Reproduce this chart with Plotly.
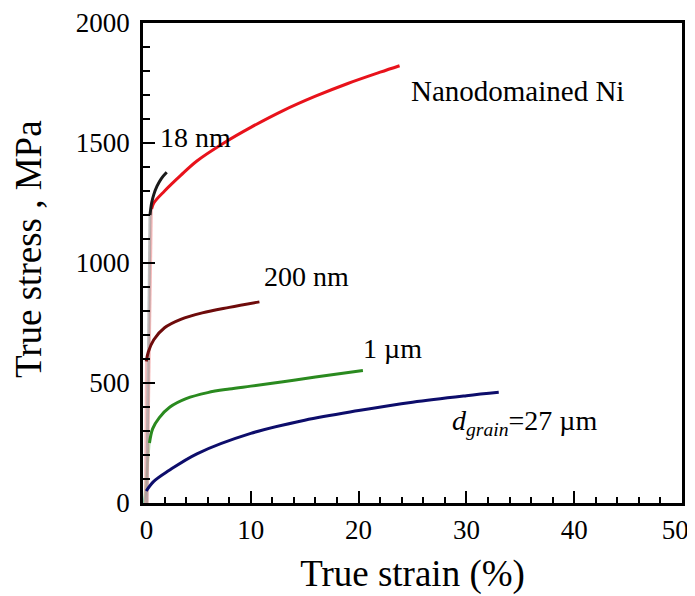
import plotly.graph_objects as go

# ---- data (strain %, true stress MPa) ----
nano_el_x = [0.4, 0.8]
nano_el_y = [0, 1225]
nano_x = [0.8, 1.0, 2, 3.5, 5, 7.5, 10, 13, 16, 19, 22, 23.8]
nano_y = [1225, 1250, 1300, 1365, 1425, 1500, 1565, 1635, 1695, 1748, 1795, 1822]

nm18_el_x = [0.35, 0.65]
nm18_el_y = [0, 1200]
nm18_x = [0.65, 0.8, 1.0, 1.3, 1.7, 2.2]
nm18_y = [1200, 1250, 1285, 1320, 1352, 1378]

nm200_el_x = [0.2, 0.3]
nm200_el_y = [0, 590]
nm200_x = [0.3, 0.5, 1.0, 2.0, 3.5, 5.5, 8, 10.8]
nm200_y = [590, 630, 680, 730, 765, 792, 815, 838]

um1_el_x = [0.1, 0.6]
um1_el_y = [0, 250]
um1_x = [0.6, 0.9, 1.5, 2.5, 4, 6, 8, 10, 13, 16, 20.4]
um1_y = [250, 310, 355, 400, 435, 460, 475, 487, 505, 525, 552]

um27_el_x = [0.05, 0.3]
um27_el_y = [0, 50]
um27_x = [0.3, 1, 2.4, 5, 10, 15, 20, 25, 30, 33]
um27_y = [50, 90, 135, 205, 290, 345, 385, 420, 447, 461]

x_ticks = [0, 10, 20, 30, 40, 50]
x_ticktext = ["\u00a00", "10", "20", "30", "40", "50\u00a0\u00a0"]
y_ticks = [0, 500, 1000, 1500, 2000]

labels = ["18 nm", "Nanodomained Ni", "200 nm", "1 µm", "<i>d</i><sub><i>grain</i></sub>=27 µm"]
label_x = [4.9, 34.7, 15.2, 23.1, 35.4]
label_y = [1524, 1717, 942, 645, 335]

FONT = "Liberation Serif, Times New Roman, serif"

fig = go.Figure()

def add(x, y, color, width=3):
    fig.add_trace(go.Scatter(x=x, y=y, mode="lines",
                             line=dict(color=color, width=width, shape="spline", smoothing=1.0),
                             showlegend=False, hoverinfo="skip"))

add(um27_el_x, um27_el_y, "rgba(80,200,220,0.6)", 2.5)
add(um1_el_x, um1_el_y, "rgba(120,200,120,0.5)", 2.5)
add(nm200_el_x, nm200_el_y, "rgba(240,150,150,0.6)", 2.5)
add(nano_el_x, nano_el_y, "rgba(240,130,130,0.55)", 2.5)
add(nm18_el_x, nm18_el_y, "rgba(150,150,150,0.6)", 3)

add(um27_x, um27_y, "#0d0d6b")
add(um1_x, um1_y, "#2a8a1f")
add(nm200_x, nm200_y, "#6e0b0b")
add(nano_x, nano_y, "#e8121b")
add(nm18_x, nm18_y, "#1a1a1a")

for text, lx, ly in zip(labels, label_x, label_y):
    fig.add_annotation(x=lx, y=ly, text=text, showarrow=False,
                       font=dict(family=FONT, size=29 if "Nano" in text else 28, color="black"))

# y-axis title (slightly above axis centre as in the reference)
fig.add_annotation(text="True stress , MPa", textangle=-90, showarrow=False,
                   xref="paper", yref="paper", x=0, y=0.529, xshift=-115,
                   xanchor="center", yanchor="middle",
                   font=dict(family=FONT, size=37, color="black"))

axis_common = dict(
    showline=True, linecolor="black", linewidth=2.5, mirror=True,
    ticks="inside", ticklen=12, tickwidth=2, tickcolor="black",
    showgrid=False, zeroline=False, automargin=False,
    ticklabeloverflow="allow",
    tickfont=dict(family=FONT, size=27, color="black"),
)

fig.update_xaxes(range=[0, 50], tickvals=x_ticks, ticktext=x_ticktext, ticklabelstandoff=1,
                 minor=dict(dtick=2, ticks="inside", ticklen=6, tickwidth=2, tickcolor="black"),
                 title=dict(text="True strain (%)", font=dict(family=FONT, size=37, color="black"),
                            standoff=16),
                 **axis_common)
fig.update_yaxes(range=[0, 2000], tickvals=y_ticks, ticklabelstandoff=5,
                 minor=dict(dtick=100, ticks="inside", ticklen=7, tickwidth=2, tickcolor="black"),
                 **axis_common)

fig.update_layout(width=687, height=588,
                  margin=dict(l=135, r=13, t=15, b=93),
                  plot_bgcolor="white", paper_bgcolor="white")

fig.write_html("out.html")
